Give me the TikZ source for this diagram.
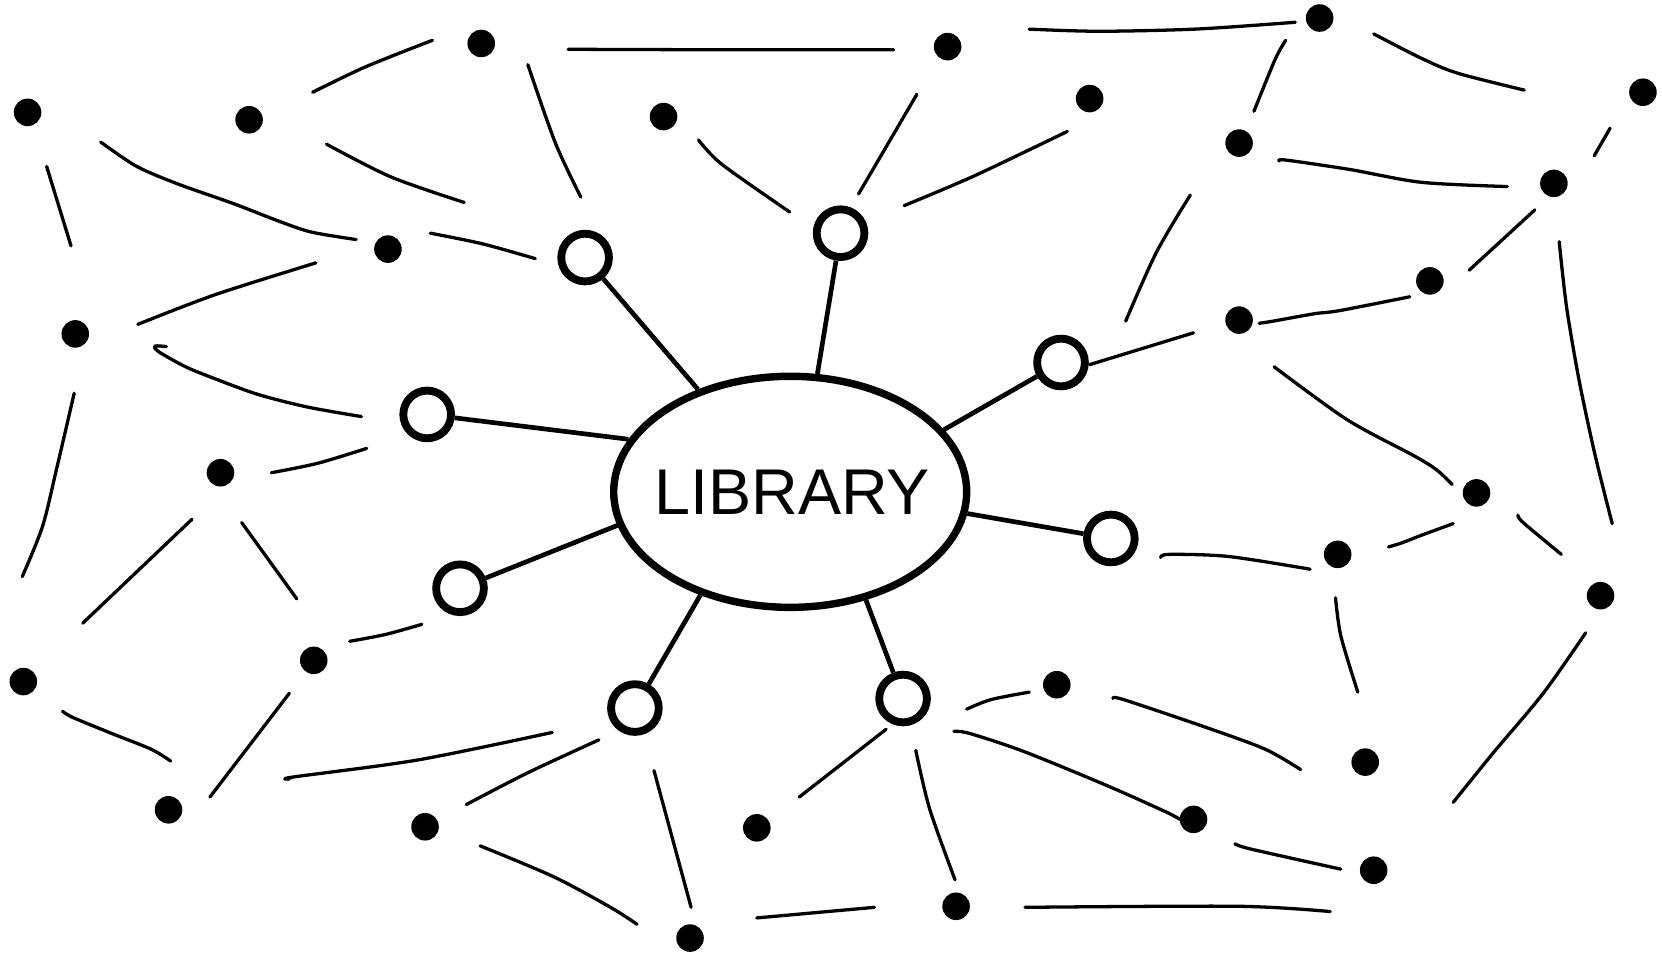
\documentclass[tikz,border=0pt]{standalone}
\usepackage{fontspec}
\newfontfamily\libfont{Liberation Sans}
\usetikzlibrary{shapes.geometric}

\tikzset{
  dot/.style={circle, fill, inner sep=0pt, minimum size=26pt},
  ring/.style={circle, draw, fill=white, line width=7.4pt, inner sep=0pt, minimum size=45pt},
  hub/.style={ellipse, draw, fill=white, line width=7pt, inner sep=0pt,
    minimum width=333pt, minimum height=218pt},
  hublabel/.style={inner sep=0pt, font=\libfont\fontsize{61}{61}\selectfont},
  spoke/.style={line width=4.4pt},
  link/.style={line width=3.1pt, line cap=round, line join=round},
}

\begin{document}
\begin{tikzpicture}[x=1pt, y=-1pt]
  \useasboundingbox (0,0) rectangle (1568,902);

  % centre
  \node[hub] (lib) at (745.5,464) {};
  \node[hublabel] (libtext) at (747.5,464) {LIBRARY};

  % open branch nodes
  \foreach \n/\x/\y in {1/552/243, 2/793/220, 3/1001/342, 4/1048/508,
                        5/852/659, 6/599/668, 7/434/555, 8/403/391}{
    \node[ring] (c\n) at (\x,\y) {};
  }

  % spokes, leaving the hub at these angles
  \foreach \n/\a in {1/132, 2/77, 3/22, 4/-7, 5/-55, 6/229, 7/191, 8/162}{
    \draw[spoke] (lib.\a) -- (c\n);
  }

  % filled nodes
  \foreach \n/\x/\y in {1/26/106, 2/235/113, 3/454/41, 4/366/235, 5/71/315,
                        6/208/446, 7/22/643, 8/296/623, 9/159/764, 10/401/780,
                        11/651/885, 12/714/781, 13/902/855, 14/997/646,
                        15/1126/773, 16/1296/821, 17/1288/719, 18/1262/523,
                        19/1393/465, 20/1510/562, 21/1169/302, 22/1349/265,
                        23/1466/173, 24/1550/87, 25/1169/135, 26/1245/17,
                        27/1028/93, 28/894/44, 29/626/110}{
    \node[dot] (d\n) at (\x,\y) {};
  }

  % broken links, top left
  \draw[link] (44,157) -- (67,232);
  \draw[link] plot[smooth] coordinates {(95,134) (129,157) (169,174) (220,192) (264,209) (294,219) (336,226)};
  \draw[link] plot[smooth] coordinates {(295,87) (345,63) (408,38)};
  \draw[link] plot[smooth] coordinates {(308,136) (369,167) (438,191)};
  \draw[link] plot[smooth] coordinates {(406,220) (455,230) (505,244)};
  \draw[link] plot[smooth] coordinates {(130,306) (203,278) (298,248)};
  \draw[link] plot[smooth] coordinates {(157,327) (146,326.5) (150,332) (175,346) (202,357) (243,372) (290,384) (341,393)};
  \draw[link] plot[smooth] coordinates {(256,446) (300,437) (346,423)};
  \draw[link] plot[smooth] coordinates {(70,371) (53,444) (40,497) (21,544)};
  \draw[link] (181,490) -- (78,588);
  \draw[link] (228,493) -- (280,565);
  \draw[link] plot[smooth] coordinates {(330,605) (364,598.5) (398,589)};

  % broken links, bottom left
  \draw[link] plot[smooth] coordinates {(59,671) (69,677) (108,693) (143,707) (161,718)};
  \draw[link] (273,654) -- (198,752);
  \draw[link] plot[smooth] coordinates {(273,735) (277,733) (394,717) (521,691)};
  \draw[link] plot[smooth] coordinates {(440,759) (498,729) (565,698)};
  \draw[link] plot[smooth] coordinates {(453,798) (522,827) (576,856) (601,872)};
  \draw[link] (617,727) -- (652,856);

  % broken links, bottom middle
  \draw[link] (714,866) -- (825,856);
  \draw[link] (754,752) -- (836,688);
  \draw[link] plot[smooth] coordinates {(864,708) (877,763) (901,830)};
  \draw[link] plot[smooth] coordinates {(967,856) (1168,855) (1255,860)};
  \draw[link] plot[smooth] coordinates {(912,669) (935,660) (971,653)};
  \draw[link] plot[smooth] coordinates {(900,690) (915,692) (966,709) (1044,741) (1100,766) (1113,773)};
  \draw[link] plot[smooth] coordinates {(1050,659) (1060,660) (1140,687) (1194,707) (1227,726)};
  \draw[link] plot[smooth] coordinates {(1165,796) (1180,801) (1265,820)};

  % broken links, right
  \draw[link] plot[smooth] coordinates {(1095,526) (1103,523) (1159,525) (1236,537)};
  \draw[link] plot[smooth] coordinates {(1260,564) (1265,600) (1281,653)};
  \draw[link] plot[smooth] coordinates {(1310,516) (1323,512) (1341,505) (1371,494)};
  \draw[link] plot[smooth] coordinates {(1432,486) (1437,493) (1473,523)};
  \draw[link] plot[smooth] coordinates {(1496,597) (1456,654) (1409,710) (1371,757)};
  \draw[link] plot[smooth] coordinates {(1471,228) (1478,290) (1490,360) (1505,430) (1521,494)};
  \draw[link] plot[smooth] coordinates {(1202,346) (1271,396) (1334,430) (1355,443) (1370,457)};
  \draw[link] plot[smooth] coordinates {(1188,305) (1201,303) (1240,296) (1264,293) (1330,280)};
  \draw[link] (1448,198) -- (1386,255);
  \draw[link] (1519,121) -- (1504,147);
  \draw[link] plot[smooth] coordinates {(1207,152) (1213,151) (1274,160) (1341,172) (1422,176)};
  \draw[link] plot[smooth] coordinates {(1296,32) (1341,55) (1375,69) (1438,85)};
  \draw[link] plot[smooth] coordinates {(1213,38) (1203,56) (1183,105)};
  \draw[link] plot[smooth] coordinates {(971,27.5) (1037,29.5) (1129,27.4) (1222,21)};
  \draw[link] plot[smooth] coordinates {(1123,184) (1091,238) (1062,303)};
  \draw[link] (1028,344) -- (1126,314);

  % broken links, top middle
  \draw[link] plot[smooth] coordinates {(853,194) (919,166) (1007,124)};
  \draw[link] plot[smooth] coordinates {(865,89) (834,142) (810,183)};
  \draw[link] plot[smooth] coordinates {(659,132) (681,155) (745,200)};
  \draw[link] plot[smooth] coordinates {(536,46.5) (696,47) (843,47)};
  \draw[link] plot[smooth] coordinates {(498,61) (524,135) (548,186)};
\end{tikzpicture}
\end{document}
